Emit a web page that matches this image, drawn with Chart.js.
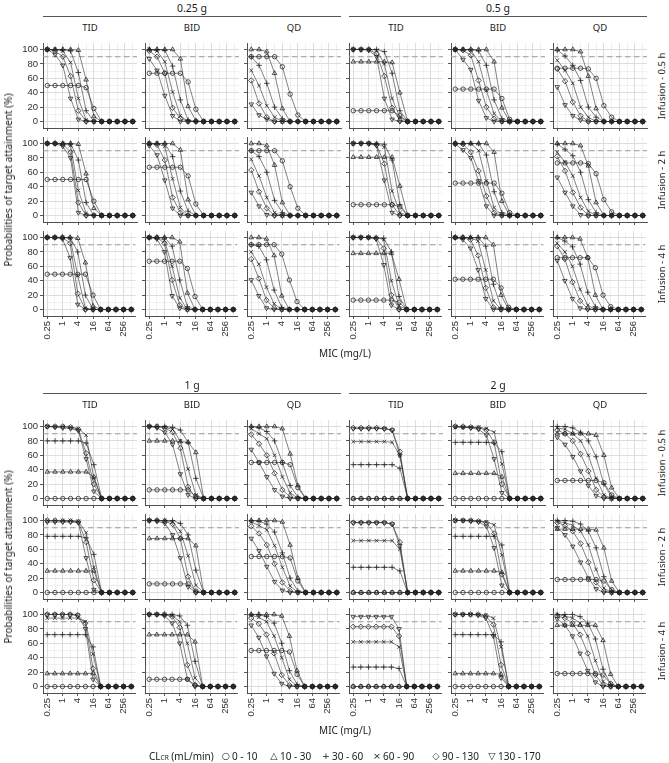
<!DOCTYPE html>
<html><head><meta charset="utf-8">
<script src="https://cdn.jsdelivr.net/npm/chart.js@4/dist/chart.umd.min.js"></script>
<style>
html,body{margin:0;padding:0;background:#fff}
body{width:669px;height:763px;position:relative;overflow:hidden;font-family:"Noto Sans",sans-serif;color:#1a1a1a}
canvas{position:absolute}
.t{position:absolute;white-space:nowrap;line-height:1;transform:translate(-50%,-50%)}
.hl{position:absolute;height:1px;background:#555}
</style></head><body>
<script>
// ---------- data ----------
const mic = [0.25, 0.5, 1, 2, 4, 8, 16, 32, 64, 128, 256, 512];
const xTickLabels = ['0.25', '1', '4', '16', '64', '256'];
const yTicks = [0, 10, 20, 30, 40, 50, 60, 70, 80, 90, 100];
const yTickLabels = ['0', '20', '40', '60', '80', '100'];
const TARGET = 90;
const doses = ['0.25 g', '0.5 g', '1 g', '2 g'];
const regimens = ['TID', 'BID', 'QD'];
const infusions = ['Infusion - 0.5 h', 'Infusion - 2 h', 'Infusion - 4 h'];
const clcrGroups = ['0 - 10', '10 - 30', '30 - 60', '60 - 90', '90 - 130', '130 - 170'];

// each facet: rows = CLcr groups (0-10, 10-30, 30-60, 60-90, 90-130, 130-170), columns = MIC values
const d025_TID_h05 = [
 [50,50,50,50,50,47,18,0,0,0,0,0],
 [100,100,100,100,99,58,7,0,0,0,0,0],
 [100,100,100,98,68,15,0,0,0,0,0,0],
 [100,100,98,82,32,2,0,0,0,0,0,0],
 [100,98,90,63,15,0,0,0,0,0,0,0],
 [100,93,78,32,3,0,0,0,0,0,0,0]];
const d025_TID_h2 = [
 [50,50,50,50,50,50,20,0,0,0,0,0],
 [100,100,100,100,99,58,10,0,0,0,0,0],
 [100,100,100,100,77,18,0,0,0,0,0,0],
 [100,100,100,97,35,3,0,0,0,0,0,0],
 [100,100,99,88,18,0,0,0,0,0,0,0],
 [100,100,96,80,4,0,0,0,0,0,0,0]];
const d025_TID_h4 = [
 [49,49,49,49,49,49,20,0,0,0,0,0],
 [100,100,100,100,99,65,5,0,0,0,0,0],
 [100,100,100,100,80,20,0,0,0,0,0,0],
 [100,100,100,99,47,2,0,0,0,0,0,0],
 [100,100,100,92,22,0,0,0,0,0,0,0],
 [100,100,98,72,7,0,0,0,0,0,0,0]];
const d025_BID_h05 = [
 [67,67,67,67,67,55,17,0,0,0,0,0],
 [100,100,100,100,87,21,1,0,0,0,0,0],
 [100,100,99,77,30,2,0,0,0,0,0,0],
 [100,98,83,41,8,0,0,0,0,0,0,0],
 [98,90,67,19,4,0,0,0,0,0,0,0],
 [87,71,36,8,0,0,0,0,0,0,0,0]];
const d025_BID_h2 = [
 [67,67,67,67,67,55,16,0,0,0,0,0],
 [100,100,100,100,91,22,0,0,0,0,0,0],
 [100,100,100,82,34,6,0,0,0,0,0,0],
 [100,100,96,51,11,0,0,0,0,0,0,0],
 [100,98,77,25,4,0,0,0,0,0,0,0],
 [97,84,49,10,0,0,0,0,0,0,0,0]];
const d025_BID_h4 = [
 [67,67,67,67,67,57,18,0,0,0,0,0],
 [100,100,100,100,94,23,0,0,0,0,0,0],
 [100,100,100,88,41,4,0,0,0,0,0,0],
 [100,100,96,60,16,0,0,0,0,0,0,0],
 [100,100,92,41,6,0,0,0,0,0,0,0],
 [100,98,80,19,2,0,0,0,0,0,0,0]];
const d025_QD_h05 = [
 [90,90,90,90,76,38,9,0,0,0,0,0],
 [100,100,97,67,18,0,0,0,0,0,0,0],
 [90,78,53,20,4,0,0,0,0,0,0,0],
 [71,50,22,6,0,0,0,0,0,0,0,0],
 [57,25,6,0,0,0,0,0,0,0,0,0],
 [24,9,3,0,0,0,0,0,0,0,0,0]];
const d025_QD_h2 = [
 [90,90,90,90,76,40,10,0,0,0,0,0],
 [100,100,97,70,18,0,0,0,0,0,0,0],
 [90,82,60,21,4,0,0,0,0,0,0,0],
 [78,55,25,4,0,0,0,0,0,0,0,0],
 [63,33,10,0,0,0,0,0,0,0,0,0],
 [32,13,1,0,0,0,0,0,0,0,0,0]];
const d025_QD_h4 = [
 [90,90,90,90,77,41,11,0,0,0,0,0],
 [100,100,98,75,19,0,0,0,0,0,0,0],
 [90,88,69,27,3,0,0,0,0,0,0,0],
 [80,63,31,8,0,0,0,0,0,0,0,0],
 [70,43,13,2,0,0,0,0,0,0,0,0],
 [41,19,2,0,0,0,0,0,0,0,0,0]];
const d05_TID_h05 = [
 [15,15,15,15,15,15,8,0,0,0,0,0],
 [83,83,83,83,83,82,40,0,0,0,0,0],
 [100,100,100,100,97,67,15,0,0,0,0,0],
 [100,100,100,99,80,32,6,0,0,0,0,0],
 [100,100,100,94,63,19,1,0,0,0,0,0],
 [100,100,99,90,32,3,0,0,0,0,0,0]];
const d05_TID_h2 = [
 [15,15,15,15,15,15,12,0,0,0,0,0],
 [81,81,81,81,81,81,41,0,0,0,0,0],
 [100,100,100,100,99,77,15,0,0,0,0,0],
 [100,100,100,100,95,34,4,0,0,0,0,0],
 [100,100,100,98,72,15,0,0,0,0,0,0],
 [100,100,100,97,49,4,0,0,0,0,0,0]];
const d05_TID_h4 = [
 [13,13,13,13,13,13,10,0,0,0,0,0],
 [78,78,78,78,78,78,42,0,0,0,0,0],
 [100,100,100,100,99,80,18,0,0,0,0,0],
 [100,100,100,100,97,40,5,0,0,0,0,0],
 [100,100,100,99,85,20,0,0,0,0,0,0],
 [100,100,100,98,62,6,0,0,0,0,0,0]];
const d05_BID_h05 = [
 [45,45,45,45,45,45,32,3,0,0,0,0],
 [100,100,100,100,100,83,19,0,0,0,0,0],
 [100,100,100,98,78,30,4,0,0,0,0,0],
 [100,100,99,83,43,11,0,0,0,0,0,0],
 [100,99,92,57,20,4,0,0,0,0,0,0],
 [100,86,72,29,5,0,0,0,0,0,0,0]];
const d05_BID_h2 = [
 [45,45,45,45,45,45,31,4,0,0,0,0],
 [100,100,100,100,100,88,20,0,0,0,0,0],
 [100,100,100,100,84,33,4,0,0,0,0,0],
 [100,100,100,90,48,11,0,0,0,0,0,0],
 [100,99,88,62,27,4,0,0,0,0,0,0],
 [99,91,80,48,13,0,0,0,0,0,0,0]];
const d05_BID_h4 = [
 [42,42,42,42,42,42,30,3,0,0,0,0],
 [100,100,100,100,100,90,20,0,0,0,0,0],
 [100,100,100,100,88,35,3,0,0,0,0,0],
 [100,100,100,95,55,12,0,0,0,0,0,0],
 [100,100,97,75,30,3,0,0,0,0,0,0],
 [100,97,85,55,15,0,0,0,0,0,0,0]];
const d05_QD_h05 = [
 [74,74,74,74,73,60,22,6,0,0,0,0],
 [100,100,100,97,63,18,0,0,0,0,0,0],
 [99,91,78,57,20,6,0,0,0,0,0,0],
 [85,71,53,20,6,0,0,0,0,0,0,0],
 [73,56,27,8,0,0,0,0,0,0,0,0],
 [48,23,8,2,0,0,0,0,0,0,0,0]];
const d05_QD_h2 = [
 [73,73,73,73,72,58,22,5,0,0,0,0],
 [100,100,100,97,69,18,0,0,0,0,0,0],
 [99,92,83,60,22,4,0,0,0,0,0,0],
 [88,74,55,25,6,0,0,0,0,0,0,0],
 [82,62,32,11,0,0,0,0,0,0,0,0],
 [53,32,13,1,0,0,0,0,0,0,0,0]];
const d05_QD_h4 = [
 [72,72,72,72,72,58,20,4,0,0,0,0],
 [100,100,100,98,72,20,0,0,0,0,0,0],
 [100,95,87,63,24,4,0,0,0,0,0,0],
 [92,80,60,28,6,0,0,0,0,0,0,0],
 [88,70,38,12,1,0,0,0,0,0,0,0],
 [68,40,15,2,0,0,0,0,0,0,0,0]];
const d1_TID_h05 = [
 [0,0,0,0,0,0,0,0,0,0,0,0],
 [37,37,37,37,37,37,30,0,0,0,0,0],
 [80,80,80,80,80,77,47,0,0,0,0,0],
 [100,100,100,99,97,88,28,0,0,0,0,0],
 [100,100,100,99,96,63,20,0,0,0,0,0],
 [100,99,98,97,94,55,10,0,0,0,0,0]];
const d1_TID_h2 = [
 [0,0,0,0,0,0,0,0,0,0,0,0],
 [30,30,30,30,30,30,30,0,0,0,0,0],
 [78,78,78,78,78,76,53,0,0,0,0,0],
 [100,100,100,100,99,83,35,0,0,0,0,0],
 [100,100,99,99,98,70,17,0,0,0,0,0],
 [98,98,98,98,97,48,4,0,0,0,0,0]];
const d1_TID_h4 = [
 [0,0,0,0,0,0,0,0,0,0,0,0],
 [18,18,18,18,18,18,18,0,0,0,0,0],
 [72,72,72,72,72,72,55,0,0,0,0,0],
 [95,95,95,95,95,90,45,0,0,0,0,0],
 [100,100,100,100,99,88,25,0,0,0,0,0],
 [100,100,100,100,99,80,10,0,0,0,0,0]];
const d1_BID_h05 = [
 [12,12,12,12,12,12,3,0,0,0,0,0],
 [80,80,80,80,79,78,64,0,0,0,0,0],
 [100,100,100,99,95,78,28,0,0,0,0,0],
 [100,100,99,96,80,41,5,0,0,0,0,0],
 [100,100,98,92,70,16,0,0,0,0,0,0],
 [100,98,92,75,34,5,0,0,0,0,0,0]];
const d1_BID_h2 = [
 [12,12,12,12,12,12,2,0,0,0,0,0],
 [75,75,75,75,75,75,65,0,0,0,0,0],
 [100,100,100,100,96,80,31,0,0,0,0,0],
 [100,100,100,98,85,51,10,0,0,0,0,0],
 [100,100,99,95,75,22,0,0,0,0,0,0],
 [100,99,96,80,48,8,0,0,0,0,0,0]];
const d1_BID_h4 = [
 [10,10,10,10,10,10,2,0,0,0,0,0],
 [72,72,72,72,72,72,62,0,0,0,0,0],
 [100,100,100,100,98,85,35,0,0,0,0,0],
 [100,100,100,99,90,60,12,0,0,0,0,0],
 [100,100,100,97,82,30,2,0,0,0,0,0],
 [100,100,98,88,60,10,0,0,0,0,0,0]];
const d1_QD_h05 = [
 [50,50,50,50,50,47,15,0,0,0,0,0],
 [100,100,100,100,97,62,18,0,0,0,0,0],
 [100,98,93,80,50,18,2,0,0,0,0,0],
 [97,90,83,60,30,8,0,0,0,0,0,0],
 [89,76,60,35,12,2,0,0,0,0,0,0],
 [68,50,30,12,3,0,0,0,0,0,0,0]];
const d1_QD_h2 = [
 [50,50,50,50,50,48,16,0,0,0,0,0],
 [100,100,100,100,98,66,20,0,0,0,0,0],
 [100,99,95,84,55,20,2,0,0,0,0,0],
 [98,93,87,65,35,9,0,0,0,0,0,0],
 [92,82,66,40,14,2,0,0,0,0,0,0],
 [75,58,36,15,3,0,0,0,0,0,0,0]];
const d1_QD_h4 = [
 [50,50,50,50,50,48,17,0,0,0,0,0],
 [100,100,100,100,98,70,22,0,0,0,0,0],
 [100,100,97,88,60,22,3,0,0,0,0,0],
 [99,96,90,70,40,10,0,0,0,0,0,0],
 [95,87,72,46,16,2,0,0,0,0,0,0],
 [85,68,42,18,4,0,0,0,0,0,0,0]];
const d2_TID_h05 = [
 [0,0,0,0,0,0,0,0,0,0,0,0],
 [0,0,0,0,0,0,0,0,0,0,0,0],
 [47,47,47,47,47,47,42,0,0,0,0,0],
 [79,79,79,79,79,78,60,0,0,0,0,0],
 [98,98,98,98,97,95,65,0,0,0,0,0],
 [97,97,97,97,97,95,60,0,0,0,0,0]];
const d2_TID_h2 = [
 [0,0,0,0,0,0,0,0,0,0,0,0],
 [0,0,0,0,0,0,0,0,0,0,0,0],
 [35,35,35,35,35,35,30,0,0,0,0,0],
 [72,72,72,72,72,72,60,0,0,0,0,0],
 [97,97,97,97,97,95,70,0,0,0,0,0],
 [97,97,97,97,97,95,65,0,0,0,0,0]];
const d2_TID_h4 = [
 [0,0,0,0,0,0,0,0,0,0,0,0],
 [0,0,0,0,0,0,0,0,0,0,0,0],
 [27,27,27,27,27,27,25,0,0,0,0,0],
 [62,62,62,62,62,62,55,0,0,0,0,0],
 [83,83,83,83,83,83,70,0,0,0,0,0],
 [97,97,97,97,97,97,80,0,0,0,0,0]];
const d2_BID_h05 = [
 [0,0,0,0,0,0,0,0,0,0,0,0],
 [35,35,35,35,35,35,30,0,0,0,0,0],
 [78,78,78,78,78,77,65,0,0,0,0,0],
 [99,99,99,99,97,92,48,0,0,0,0,0],
 [100,100,99,98,95,78,20,0,0,0,0,0],
 [100,99,98,96,88,55,8,0,0,0,0,0]];
const d2_BID_h2 = [
 [0,0,0,0,0,0,0,0,0,0,0,0],
 [30,30,30,30,30,30,28,0,0,0,0,0],
 [78,78,78,78,78,78,66,0,0,0,0,0],
 [100,100,100,99,98,94,52,0,0,0,0,0],
 [100,100,100,99,97,82,25,0,0,0,0,0],
 [100,100,99,98,92,62,10,0,0,0,0,0]];
const d2_BID_h4 = [
 [0,0,0,0,0,0,0,0,0,0,0,0],
 [18,18,18,18,18,18,17,0,0,0,0,0],
 [72,72,72,72,72,72,62,0,0,0,0,0],
 [100,100,100,100,99,95,55,0,0,0,0,0],
 [100,100,100,100,98,86,30,0,0,0,0,0],
 [100,100,100,99,95,70,12,0,0,0,0,0]];
const d2_QD_h05 = [
 [25,25,25,25,25,25,22,5,0,0,0,0],
 [90,90,90,90,90,88,60,15,0,0,0,0],
 [100,100,98,92,80,58,20,2,0,0,0,0],
 [98,96,90,80,60,28,5,0,0,0,0,0],
 [95,90,80,62,38,12,2,0,0,0,0,0],
 [85,75,58,38,18,4,0,0,0,0,0,0]];
const d2_QD_h2 = [
 [18,18,18,18,18,18,16,4,0,0,0,0],
 [88,88,88,88,88,87,62,16,0,0,0,0],
 [100,100,99,95,85,62,22,2,0,0,0,0],
 [99,97,93,85,66,32,6,0,0,0,0,0],
 [97,93,85,68,42,14,2,0,0,0,0,0],
 [90,80,64,42,20,5,0,0,0,0,0,0]];
const d2_QD_h4 = [
 [18,18,18,18,18,18,16,4,0,0,0,0],
 [85,85,85,85,85,85,64,17,0,0,0,0],
 [100,100,100,97,88,66,24,3,0,0,0,0],
 [100,98,95,88,70,36,7,0,0,0,0,0],
 [98,95,88,72,46,16,2,0,0,0,0,0],
 [94,85,70,46,22,6,0,0,0,0,0,0]];

// ---------- layout ----------
const COL_LEFT = [43, 145, 247, 349, 451, 553];
const ROW_TOP = [[43, 137, 231], [420, 514, 608]];
const PW = 94, PH = 85;
const PL = 40, PT = 8, PR = 8, PB = 30;
const blocks = [
 [[d025_TID_h05, d025_BID_h05, d025_QD_h05, d05_TID_h05, d05_BID_h05, d05_QD_h05],
  [d025_TID_h2, d025_BID_h2, d025_QD_h2, d05_TID_h2, d05_BID_h2, d05_QD_h2],
  [d025_TID_h4, d025_BID_h4, d025_QD_h4, d05_TID_h4, d05_BID_h4, d05_QD_h4]],
 [[d1_TID_h05, d1_BID_h05, d1_QD_h05, d2_TID_h05, d2_BID_h05, d2_QD_h05],
  [d1_TID_h2, d1_BID_h2, d1_QD_h2, d2_TID_h2, d2_BID_h2, d2_QD_h2],
  [d1_TID_h4, d1_BID_h4, d1_QD_h4, d2_TID_h4, d2_BID_h4, d2_QD_h4]]];

const shapes = ['circle', 'triangle', 'cross', 'crossRot', 'rectRot', 'triangle'];
const rotations = [0, 0, 0, 0, 0, 180];
const radii = [2.2, 2.6, 2.8, 2.6, 2.7, 2.6];
const XMIN = Math.pow(2, -2.55), XMAX = Math.pow(2, 9.55);

const targetLine = {
  id: 'targetLine',
  beforeDatasetsDraw(chart) {
    const y = chart.scales.y.getPixelForValue(TARGET);
    const a = chart.chartArea, ctx = chart.ctx;
    ctx.save();
    ctx.strokeStyle = '#9b9b9b'; ctx.lineWidth = 1.1; ctx.setLineDash([5.5, 3.5]);
    ctx.beginPath(); ctx.moveTo(a.left, y); ctx.lineTo(a.right, y); ctx.stroke();
    ctx.restore();
  }
};

function addText(txt, x, y, size, rot, align) {
  const d = document.createElement('div');
  d.className = 't';
  d.textContent = txt;
  d.style.left = x + 'px'; d.style.top = y + 'px'; d.style.fontSize = size + 'px';
  const tx = align === 'left' ? 'translate(0,-50%)' : 'translate(-50%,-50%)';
  d.style.transform = tx + (rot ? ' rotate(' + rot + 'deg)' : '');
  document.body.appendChild(d);
  return d;
}
function addLine(x1, x2, y) {
  const d = document.createElement('div');
  d.className = 'hl';
  d.style.left = x1 + 'px'; d.style.width = (x2 - x1) + 'px'; d.style.top = y + 'px';
  document.body.appendChild(d);
}

function makeFacet(vals, left, top, showY, showX) {
  const cv = document.createElement('canvas');
  const w = PL + PW + PR, h = PT + PH + PB;
  cv.width = w; cv.height = h;
  cv.style.left = (left - PL) + 'px'; cv.style.top = (top - PT) + 'px';
  cv.style.width = w + 'px'; cv.style.height = h + 'px';
  document.body.appendChild(cv);
  const datasets = vals.map((row, g) => ({
    label: clcrGroups[g],
    data: mic.map((m, i) => ({ x: m, y: row[i] })),
    borderColor: '#2e2e2e', borderWidth: 0.6,
    pointStyle: shapes[g], rotation: rotations[g], pointRadius: radii[g],
    pointBorderColor: '#1c1c1c', pointBorderWidth: 0.75,
    pointBackgroundColor: 'rgba(0,0,0,0)', backgroundColor: 'rgba(0,0,0,0)',
    fill: false, tension: 0
  }));
  new Chart(cv, {
    type: 'line',
    data: { datasets },
    options: {
      responsive: false, animation: false, devicePixelRatio: 1,
      layout: { padding: { top: PT, right: PR, left: 0, bottom: 0 } },
      plugins: { legend: { display: false }, tooltip: { enabled: false } },
      scales: {
        x: {
          type: 'logarithmic', min: XMIN, max: XMAX,
          afterBuildTicks: s => { s.ticks = mic.map(v => ({ value: v })); },
          afterFit: s => { s.height = PB; },
          ticks: {
            display: showX, autoSkip: false, minRotation: 90, maxRotation: 90, padding: 2,
            color: '#303030', font: { family: 'Liberation Sans', size: 9.5 },
            callback: v => xTickLabels.includes(String(v)) ? String(v) : ''
          },
          grid: {
            color: c => (c.tick && xTickLabels.includes(String(c.tick.value))) ? '#d9d9d9' : '#e8e8e8',
            lineWidth: c => (c.tick && xTickLabels.includes(String(c.tick.value))) ? 0.9 : 0.6,
            tickLength: 3,
            tickColor: c => (c.tick && xTickLabels.includes(String(c.tick.value))) ? '#444' : 'rgba(0,0,0,0)'
          },
          border: { display: true, color: '#3c3c3c', width: 0.9 }
        },
        y: {
          min: -9, max: 109,
          afterBuildTicks: s => { s.ticks = yTicks.map(v => ({ value: v })); },
          afterFit: s => { s.width = PL; },
          ticks: {
            display: showY, autoSkip: false, padding: 2,
            color: '#303030', font: { family: 'Liberation Sans', size: 9.5 },
            callback: v => yTickLabels.includes(String(v)) ? String(v) : ''
          },
          grid: {
            color: c => (c.tick && yTickLabels.includes(String(c.tick.value))) ? '#d9d9d9' : '#e8e8e8',
            lineWidth: c => (c.tick && yTickLabels.includes(String(c.tick.value))) ? 0.9 : 0.6,
            tickLength: 3,
            tickColor: c => (c.tick && yTickLabels.includes(String(c.tick.value))) ? '#444' : 'rgba(0,0,0,0)'
          },
          border: { display: true, color: '#3c3c3c', width: 0.9 }
        }
      }
    },
    plugins: [targetLine]
  });
}

blocks.forEach((block, b) => {
  const tops = ROW_TOP[b];
  for (let k = 0; k < 2; k++) {
    const x1 = COL_LEFT[k * 3], x2 = COL_LEFT[k * 3 + 2] + PW;
    addText(doses[b * 2 + k], (x1 + x2) / 2, tops[0] - 35, 10.5);
    addLine(x1, x2, tops[0] - 27);
  }
  for (let c = 0; c < 6; c++) addText(regimens[c % 3], COL_LEFT[c] + PW / 2, tops[0] - 15, 9.5);
  block.forEach((rowFacets, r) => {
    addText(infusions[r], 662, tops[r] + PH / 2, 9.5, -90);
    rowFacets.forEach((vals, c) => makeFacet(vals, COL_LEFT[c], tops[r], c === 0, r === 2));
  });
  const midY = (tops[0] + tops[2] + PH) / 2;
  addText('Probabilities of target attainment (%)', 8, midY, 10, -90);
  addText('MIC (mg/L)', (COL_LEFT[0] + COL_LEFT[5] + PW) / 2, tops[2] + PH + 37, 10);
});

// legend
const LEG_Y = 756;
const legendGlyphs = ['\u25CB', '\u25B3', '+', '\u00D7', '\u25C7', '\u25BD'];
const legendGlyphX = [226, 274, 326, 377, 436, 492];
const lt = addText('', 149, LEG_Y, 10, 0, 'left');
lt.innerHTML = 'CL<span style="font-size:6.5px">CR</span> (mL/min)';
clcrGroups.forEach((g, i) => {
  const gl = addText(legendGlyphs[i], legendGlyphX[i], LEG_Y, 9.5);
  gl.style.fontFamily = '"DejaVu Sans",sans-serif';
  addText(g, legendGlyphX[i] + 6, LEG_Y, 10, 0, 'left');
});
</script>
</body></html>
